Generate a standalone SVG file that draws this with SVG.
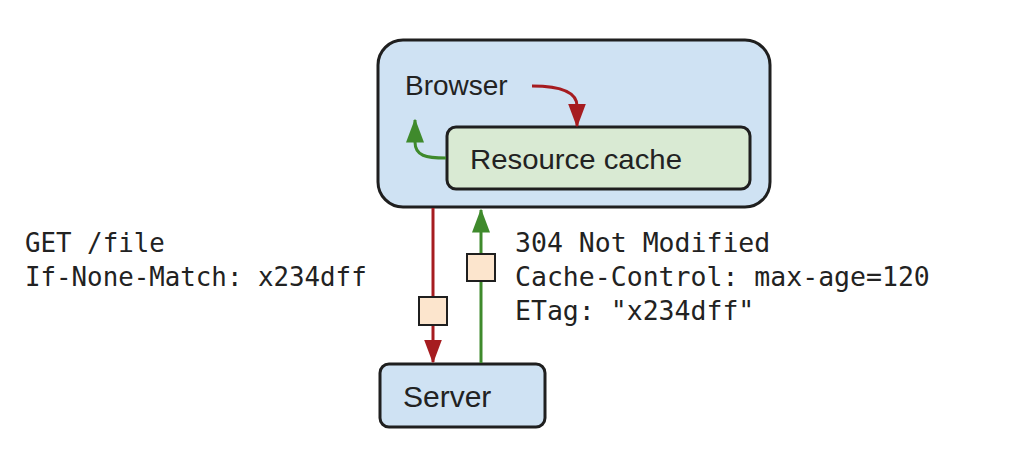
<svg xmlns="http://www.w3.org/2000/svg" width="1036" height="450" viewBox="0 0 1036 450">
<defs>
<style>
.box{stroke:#1f1f1f;stroke-width:3}
.blue{fill:#cfe2f3}
.green{fill:#d9ead3}
.lbl{font-family:"Liberation Sans",Arial,sans-serif;fill:#222}
.mono{font-family:"DejaVu Sans Mono","Liberation Mono",monospace;fill:#222}
.pkt{fill:#fce5cd;stroke:#1f1f1f;stroke-width:2}
.red{stroke:#a61c20;stroke-width:3;fill:none}
.grn{stroke:#3f8a2c;stroke-width:3;fill:none}
</style>
<marker id="ahR" markerWidth="8" markerHeight="6" refX="7.5" refY="3" orient="auto" markerUnits="strokeWidth" viewBox="0 0 8 6"><path d="M0,0 L8,3 L0,6 z" fill="#a61c20"/></marker>
<marker id="ahG" markerWidth="8" markerHeight="6" refX="7.5" refY="3" orient="auto" markerUnits="strokeWidth" viewBox="0 0 8 6"><path d="M0,0 L8,3 L0,6 z" fill="#3f8a2c"/></marker>
</defs>
<rect width="1036" height="450" fill="#fff"/>
<g id="browser">
<rect class="box blue" x="378" y="40" width="392" height="167" rx="25"/>
<text class="lbl" x="405" y="95" font-size="28">Browser</text>
</g>
<g id="cache">
<rect class="box green" x="447" y="127" width="303" height="62" rx="9"/>
<text class="lbl" x="470" y="169" font-size="28" textLength="212" lengthAdjust="spacingAndGlyphs">Resource cache</text>
</g>
<g id="server">
<rect class="box blue" x="380" y="364" width="165" height="63" rx="9"/>
<text class="lbl" x="403" y="407" font-size="30">Server</text>
</g>
<g id="connectors">
<path class="red" d="M532,86 C560,86 577,92 577,106 L577,126" marker-end="url(#ahR)"/>
<path class="grn" d="M446,158 C426,158 415,156 415,142 L415,120" marker-end="url(#ahG)"/>
<line class="red" x1="433" y1="208" x2="433" y2="362" marker-end="url(#ahR)"/>
<line class="grn" x1="481" y1="363" x2="481" y2="210" marker-end="url(#ahG)"/>
<rect class="pkt" x="419" y="297" width="28" height="28"/>
<rect class="pkt" x="467" y="254" width="28" height="27"/>
</g>
<g id="request" class="mono" font-size="25.8">
<text x="25" y="252">GET /file</text>
<text x="25" y="286">If-None-Match: x234dff</text>
</g>
<g id="response" class="mono" font-size="26.5">
<text x="515" y="252">304 Not Modified</text>
<text x="515" y="286">Cache-Control: max-age=120</text>
<text x="515" y="320">ETag: "x234dff"</text>
</g>
</svg>
